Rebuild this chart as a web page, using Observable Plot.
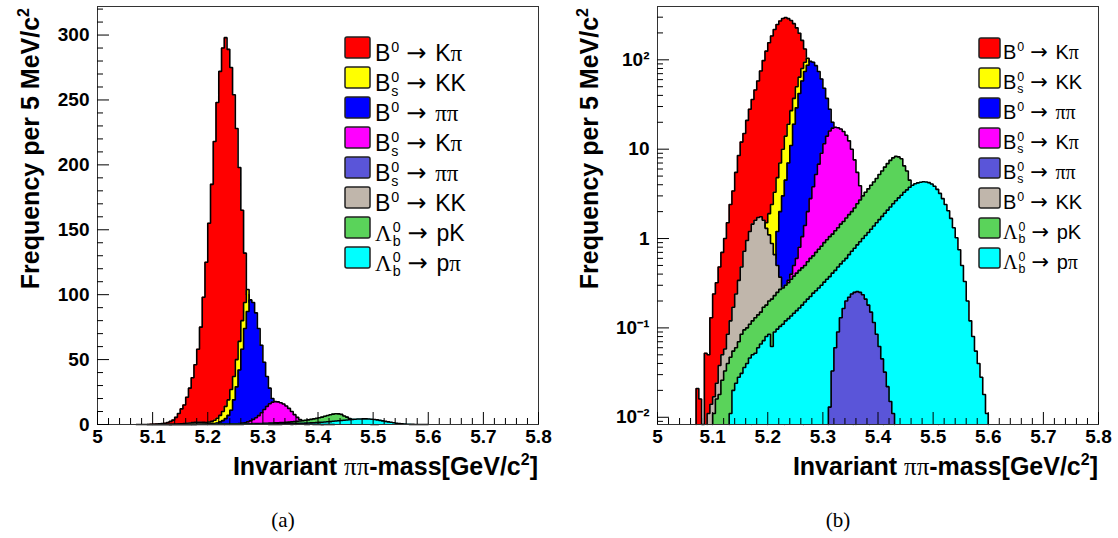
<!DOCTYPE html>
<html>
<head>
<meta charset="utf-8">
<script src="https://cdn.jsdelivr.net/npm/d3@7"></script>
<script src="https://cdn.jsdelivr.net/npm/@observablehq/plot@0.6"></script>
<style>
  body { margin: 0; background: #fff; }
  #page { position: relative; width: 1118px; height: 538px; overflow: hidden; background: #fff; }
  #page svg { position: absolute; top: 0; }
</style>
</head>
<body>
<div id="page"></div>
<script>
// Invariant pi-pi mass, 5 MeV bins from 5.0 to 5.8 GeV/c^2.
const massLow = 5.0;
const massHigh = 5.8;
const binWidth = 0.005;

// Counts per bin; each list starts at the bin index given by its *First value.
const bdKpiFirst = 14;   // B0 -> K pi
const bdKpi = [0.021, 0.016, 0, 0.052, 0.05, 0.13, 0.24, 0.32, 0.48, 0.7,
  1.0, 1.5, 2.4, 3.4, 5.5, 8.5, 12, 15, 21, 28,
  36, 46, 58, 75, 98, 125, 155, 185, 218, 248,
  272, 290, 298, 289, 275, 254, 228, 198, 165, 132,
  100, 78, 58, 42, 30, 21, 14, 9.5, 6.2, 4,
  2.5, 1.6, 1.0, 0.6, 0.35, 0.2, 0.1];

const bsKKFirst = 34;    // Bs -> K K
const bsKK = [0.4, 0.5, 0.6, 0.8, 1.1, 1.5, 1.9, 2.4, 3.3, 4.8,
  7, 10, 14, 19, 27, 37, 50, 64, 80, 94,
  104, 94, 84, 72, 59, 46, 35, 26, 18, 12,
  8, 5, 3, 1.8, 1.1, 0.6, 0.35, 0.2];

const bdPiPiFirst = 40;  // B0 -> pi pi
const bdPiPi = [0.3, 0.45, 0.6, 1.2, 2.0, 3.0, 4.5, 7, 11, 19,
  29, 42, 58, 74, 87, 96, 94, 86, 74, 61,
  48, 37, 28, 20, 14, 9.5, 6.5, 4.3, 2.8, 1.8,
  1.2, 0.75, 0.5, 0.3, 0.2, 0.12, 0.08];

const bsKpiFirst = 46;   // Bs -> K pi
const bsKpi = [0.25, 0.34, 0.4, 0.5, 0.6, 0.8, 1.05, 1.4, 2.0, 2.8,
  3.8, 5.2, 6.8, 9, 11.5, 14, 16, 17.2, 17.6, 17.4,
  16.8, 15.8, 14.3, 12.4, 10, 7.6, 5.5, 3.9, 2.8, 2,
  1.3, 0.85, 0.5, 0.3, 0.17, 0.09];

const bsPiPiFirst = 62;  // Bs -> pi pi
const bsPiPi = [0.013, 0.033, 0.06, 0.09, 0.13, 0.165, 0.2, 0.22, 0.24, 0.25,
  0.255, 0.25, 0.235, 0.21, 0.18, 0.15, 0.115, 0.085, 0.062, 0.045,
  0.032, 0.022, 0.015, 0.011];

const bdKKFirst = 18;    // B0 -> K K
const bdKK = [0.011, 0.014, 0.017, 0.024, 0.038, 0.05, 0.058, 0.085, 0.12, 0.17,
  0.24, 0.34, 0.48, 0.72, 0.95, 1.2, 1.45, 1.6, 1.72, 1.75,
  1.6, 1.3, 1.1, 0.88, 0.66, 0.5, 0.37, 0.28, 0.2, 0.14,
  0.09, 0.06, 0.035, 0.02, 0.012];

const lbPKFirst = 20;    // Lambda_b -> p K
const lbPK = [0.011, 0.016, 0.018, 0.026, 0.033, 0.04, 0.047, 0.055, 0.06, 0.07,
  0.085, 0.095, 0.1, 0.11, 0.12, 0.13, 0.14, 0.15, 0.17, 0.18,
  0.2, 0.21, 0.23, 0.25, 0.27, 0.28, 0.3, 0.32, 0.35, 0.38,
  0.41, 0.44, 0.47, 0.5, 0.55, 0.6, 0.64, 0.7, 0.76, 0.82,
  0.9, 0.97, 1.05, 1.12, 1.22, 1.32, 1.45, 1.55, 1.7, 1.85,
  2.0, 2.2, 2.45, 2.7, 3.0, 3.3, 3.6, 3.95, 4.3, 4.7,
  5.2, 5.7, 6.3, 6.9, 7.5, 8.0, 8.3, 8.2, 7.8, 6.5,
  5.7, 4.5, 3.5, 2.6, 1.8, 1.15, 0.7, 0.4, 0.22, 0.11,
  0.05, 0.02];

const lbPPiFirst = 26;   // Lambda_b -> p pi
const lbPPi = [0.011, 0.02, 0.024, 0.028, 0.031, 0.036, 0.04, 0.046, 0.05, 0.052,
  0.06, 0.066, 0.072, 0.08, 0.085, 0.062, 0.09, 0.097, 0.104, 0.11,
  0.12, 0.127, 0.136, 0.146, 0.156, 0.167, 0.18, 0.195, 0.21, 0.225,
  0.245, 0.26, 0.28, 0.3, 0.325, 0.35, 0.375, 0.41, 0.44, 0.48,
  0.52, 0.56, 0.6, 0.66, 0.72, 0.78, 0.85, 0.92, 1.0, 1.08,
  1.17, 1.27, 1.38, 1.5, 1.63, 1.77, 1.92, 2.08, 2.25, 2.45,
  2.65, 2.85, 3.05, 3.3, 3.5, 3.75, 3.95, 4.1, 4.2, 4.27,
  4.32, 4.3, 4.22, 4.08, 3.85, 3.55, 3.2, 2.8, 2.4, 2.05,
  1.68, 1.32, 1.02, 0.75, 0.5, 0.33, 0.2, 0.12, 0.08, 0.055,
  0.04, 0.028, 0.018, 0.011];

// Legend entries, in legend order.
const decayColors = ["#ff0000", "#ffff00", "#0000ff", "#ff00ff", "#5a55d9", "#c0b6ab", "#5ad35a", "#00ffff"];
const decayParents = ["B", "B", "B", "B", "B", "B", "Λ", "Λ"];
const decaySubs = ["", "s", "", "s", "s", "", "b", "b"];
const decayProducts = ["Kπ", "KK", "ππ", "Kπ", "ππ", "KK", "pK", "pπ"];
const firstBins = [bdKpiFirst, bsKKFirst, bdPiPiFirst, bsKpiFirst, bsPiPiFirst, bdKKFirst, lbPKFirst, lbPPiFirst];
const countLists = [bdKpi, bsKK, bdPiPi, bsKpi, bsPiPi, bdKK, lbPK, lbPPi];
// Painting order (later ones on top).
const drawOrder = [0, 1, 2, 3, 5, 6, 7, 4];

// Axis ticks and labels.
const massTicks = [5, 5.1, 5.2, 5.3, 5.4, 5.5, 5.6, 5.7, 5.8];
const massTickLabels = ["5", "5.1", "5.2", "5.3", "5.4", "5.5", "5.6", "5.7", "5.8"];
const linearTicks = [0, 50, 100, 150, 200, 250, 300];
const logTicks = [0.01, 0.1, 1, 10, 100];
const logTickLabels = ["10⁻²", "10⁻¹", "1", "10", "10²"];

const linearDomain = [0, 322];
const logDomain = [0.0083, 395];

const sans = "'Liberation Sans', Arial, Helvetica, sans-serif";
const serif = "'Liberation Serif', 'Times New Roman', serif";
const arrowFont = "'DejaVu Sans', sans-serif";

const panelWidth = 559;
const panelHeight = 480;
const margin = {left: 97, right: 21, top: 6, bottom: 56};
const plotW = panelWidth - margin.left - margin.right;
const plotH = panelHeight - margin.top - margin.bottom;
const majorLen = 12, minorLen = 6;

const series = countLists.map((counts, k) => ({color: decayColors[k], first: firstBins[k], counts}));

// Step outline of one histogram, closed down to the floor at both ends.
function outline(s, floor) {
  const pts = [];
  const x0 = massLow + s.first * binWidth;
  pts.push({m: x0, v: floor});
  s.counts.forEach((c, k) => pts.push({m: massLow + (s.first + k) * binWidth, v: Math.max(c, floor)}));
  const xe = massLow + (s.first + s.counts.length) * binWidth;
  pts.push({m: xe, v: Math.max(s.counts[s.counts.length - 1], floor)});
  pts.push({m: xe, v: floor});
  return pts;
}

function histMarks(floor) {
  return drawOrder.flatMap(k => {
    const pts = outline(series[k], floor);
    return [
      Plot.areaY(pts, {x: "m", y1: () => floor, y2: "v", curve: "step-after", fill: series[k].color}),
      Plot.line(pts, {x: "m", y: "v", curve: "step-after", stroke: "black", strokeWidth: 1.6, strokeLinejoin: "miter"})
    ];
  });
}

const massMinor = d3.range(1, 40).filter(k => k % 5 !== 0).map(k => massLow + 0.02 * k);

function xTickMarks() {
  return [
    Plot.tickX(massTicks, {x: d => d, insetTop: plotH - majorLen, stroke: "black"}),
    Plot.tickX(massMinor, {x: d => d, insetTop: plotH - minorLen, stroke: "black"}),
    Plot.axisX(massTicks, {tickSize: 0, tickPadding: 5, tickFormat: d => massTickLabels[massTicks.indexOf(d)], label: null})
  ];
}

function yTickMarks(major, minor, labels) {
  return [
    Plot.tickY(major, {y: d => d, insetRight: plotW - majorLen, stroke: "black"}),
    Plot.tickY(minor, {y: d => d, insetRight: plotW - minorLen, stroke: "black"}),
    Plot.axisY(major, {tickSize: 0, tickPadding: 8, tickFormat: d => labels[major.indexOf(d)], label: null})
  ];
}

const plotStyle = {fontFamily: sans, fontSize: "19px", fontWeight: "bold", color: "black", background: "transparent", overflow: "visible"};

// (a) linear scale
const linearMinor = d3.range(10, 321, 10).filter(d => d % 50 !== 0);
const linearPlot = Plot.plot({
  width: panelWidth, height: panelHeight,
  marginLeft: margin.left, marginRight: margin.right, marginTop: margin.top, marginBottom: margin.bottom,
  x: {domain: [massLow, massHigh], label: null},
  y: {domain: linearDomain, label: null},
  style: plotStyle,
  marks: [
    ...histMarks(0),
    Plot.frame({stroke: "#333", strokeWidth: 1}),
    ...xTickMarks(),
    ...yTickMarks(linearTicks, linearMinor, linearTicks.map(String))
  ]
});

// (b) logarithmic scale
const logMinor = [-3, -2, -1, 0, 1, 2]
  .flatMap(e => [2, 3, 4, 5, 6, 7, 8, 9].map(k => k * Math.pow(10, e)))
  .filter(d => d >= logDomain[0] && d <= logDomain[1]);
const logPlot = Plot.plot({
  width: panelWidth, height: panelHeight,
  marginLeft: margin.left + 1, marginRight: margin.right - 1, marginTop: margin.top, marginBottom: margin.bottom,
  x: {domain: [massLow, massHigh], label: null},
  y: {type: "log", domain: logDomain, label: null},
  style: plotStyle,
  marks: [
    ...histMarks(logDomain[0]),
    Plot.frame({stroke: "#333", strokeWidth: 1}),
    ...xTickMarks(),
    ...yTickMarks(logTicks, logMinor, logTickLabels)
  ]
});

const page = document.getElementById("page");
linearPlot.style.left = "0px";
logPlot.style.left = panelWidth + "px";
page.appendChild(linearPlot);
page.appendChild(logPlot);

// Titles, legends and captions.
const overlay = d3.select(page).append("svg")
  .attr("width", 1118).attr("height", 538)
  .style("left", "0px").style("pointer-events", "none");

function axisTitles(ox, frameRight) {
  const yt = overlay.append("text")
    .attr("transform", `translate(${ox + 39},8) rotate(-90)`)
    .attr("text-anchor", "end")
    .attr("font-family", sans).attr("font-weight", "bold").attr("font-size", 25);
  yt.append("tspan").text("Frequency per 5 MeV/c");
  yt.append("tspan").attr("dy", -10).attr("font-size", 16).text("2");

  const xt = overlay.append("text")
    .attr("x", frameRight).attr("y", 475)
    .attr("text-anchor", "end")
    .attr("font-family", sans).attr("font-weight", "bold").attr("font-size", 25);
  xt.append("tspan").text("Invariant ");
  xt.append("tspan").attr("font-family", serif).attr("font-weight", "normal").text("ππ");
  xt.append("tspan").text("-mass[GeV/c");
  xt.append("tspan").attr("dy", -10).attr("font-size", 16).text("2");
  xt.append("tspan").attr("dy", 10).text("]");
}
axisTitles(0, margin.left + plotW);
axisTitles(panelWidth, panelWidth + margin.left + 1 + plotW);

function legend(cfg) {
  const g = overlay.append("g").attr("fill", "black");
  decayColors.forEach((color, k) => {
    const top = cfg.top + k * cfg.pitch;
    g.append("rect")
      .attr("x", cfg.x).attr("y", top).attr("width", cfg.w).attr("height", cfg.h)
      .attr("fill", color).attr("stroke", "#222").attr("stroke-width", 1.5).attr("rx", 2);
    const base = top + cfg.h + cfg.drop;
    let x = cfg.x + cfg.w + cfg.gap;
    const parent = g.append("text").attr("x", x).attr("y", base)
      .attr("font-size", cfg.fs)
      .attr("font-family", decayParents[k] === "Λ" ? serif : sans)
      .text(decayParents[k]);
    x += parent.node().getComputedTextLength() + 1;
    const small = cfg.fs * 0.62;
    const sup = g.append("text").attr("x", x).attr("y", base - cfg.fs * 0.4)
      .attr("font-size", small).attr("font-family", sans).text("0");
    let w = sup.node().getComputedTextLength();
    if (decaySubs[k]) {
      const sub = g.append("text").attr("x", x).attr("y", base + cfg.fs * 0.22)
        .attr("font-size", small).attr("font-family", sans).text(decaySubs[k]);
      w = Math.max(w, sub.node().getComputedTextLength());
    }
    x += w + cfg.fs * 0.3;
    const arrow = g.append("text").attr("x", x).attr("y", base - cfg.fs * 0.02)
      .attr("font-size", cfg.fs * 1.05).attr("font-family", arrowFont).text("→");
    x += arrow.node().getComputedTextLength() + cfg.fs * 0.38;
    const prod = g.append("text").attr("x", x).attr("y", base).attr("font-size", cfg.fs).attr("font-family", sans);
    for (const ch of decayProducts[k]) {
      prod.append("tspan").attr("font-family", ch === "π" ? serif : sans).text(ch);
    }
  });
}
legend({x: 345, w: 25, h: 21, top: 37, pitch: 30, fs: 23, gap: 5, drop: 3});
legend({x: 979, w: 21, h: 20, top: 38, pitch: 30, fs: 20, gap: 3, drop: 1});

overlay.append("text").attr("x", 283).attr("y", 527).attr("text-anchor", "middle")
  .attr("font-family", serif).attr("font-size", 21).text("(a)");
overlay.append("text").attr("x", 838).attr("y", 527).attr("text-anchor", "middle")
  .attr("font-family", serif).attr("font-size", 21).text("(b)");
</script>
</body>
</html>
